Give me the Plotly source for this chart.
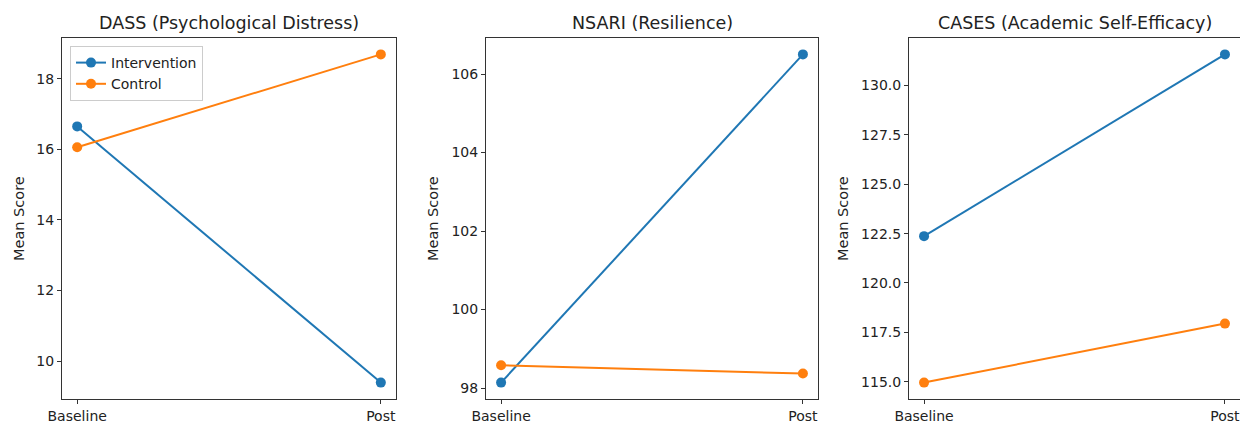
import plotly.graph_objects as go

timepoints = ["Baseline", "Post"]
titles = ["DASS (Psychological Distress)", "NSARI (Resilience)", "CASES (Academic Self-Efficacy)"]
intervention = [[16.65, 9.39], [98.14, 106.5], [122.37, 131.58]]
control = [[16.06, 18.69], [98.58, 98.37], [114.95, 117.94]]
dticks = [2, 2, 2.5]
tickfmts = ["d", "d", ".1f"]

W, H = 1240, 424
x_domains = [(62, 396), (486, 818), (909, 1240)]
ylabel_x = [19, 433, 843]
y_top, y_bot = 38, 399

BLUE = "#1f77b4"
ORANGE = "#ff7f0e"
FONT = "DejaVu Sans"
TXT = "#222"
fig = go.Figure()

for i in range(3):
    ax = "" if i == 0 else str(i + 1)
    xref, yref = "x" + ax, "y" + ax
    fig.add_trace(go.Scatter(x=[0, 1], y=intervention[i], mode="lines+markers", name="Intervention",
                             line=dict(color=BLUE, width=2), marker=dict(size=10, color=BLUE),
                             xaxis=xref, yaxis=yref, showlegend=(i == 0)))
    fig.add_trace(go.Scatter(x=[0, 1], y=control[i], mode="lines+markers", name="Control",
                             line=dict(color=ORANGE, width=2), marker=dict(size=10, color=ORANGE),
                             xaxis=xref, yaxis=yref, showlegend=(i == 0)))
    vals = intervention[i] + control[i]
    lo, hi = min(vals), max(vals)
    pad = (hi - lo) * 0.05
    d0, d1 = x_domains[i]
    common = dict(showgrid=False, zeroline=False, showline=True, mirror=True, linecolor="#333",
                  linewidth=1, ticks="outside", ticklen=4, tickcolor="#333", automargin=False,
                  ticklabeloverflow="allow", tickfont=dict(family=FONT, size=14, color=TXT))
    fig.layout["xaxis" + ax] = dict(domain=[d0 / W, min(d1 / W, 1.0)], range=[-0.05, 1.05],
                                    tickvals=[0, 1], ticktext=timepoints, anchor=yref, **common)
    fig.layout["yaxis" + ax] = dict(domain=[(H - y_bot) / H, (H - y_top) / H], range=[lo - pad, hi + pad],
                                    dtick=dticks[i], tickformat=tickfmts[i], anchor=xref, **common)
    fig.add_annotation(text=titles[i], x=(d0 + min(d1, 1241)) / 2 / W, y=(H - y_top) / H,
                       xref="paper", yref="paper", xanchor="center", yanchor="bottom", yshift=3,
                       showarrow=False, font=dict(family=FONT, size=17.5, color=TXT))
    fig.add_annotation(text="Mean Score", x=ylabel_x[i] / W, y=(H - 219) / H, textangle=-90,
                       xref="paper", yref="paper", xanchor="center", yanchor="middle",
                       showarrow=False, font=dict(family=FONT, size=14.5, color=TXT))

fig.update_layout(
    width=W, height=H, margin=dict(l=0, r=0, t=0, b=0),
    plot_bgcolor="white", paper_bgcolor="white",
    font=dict(family=FONT, size=14, color=TXT),
    legend=dict(x=70 / W, y=(H - 46) / H, xanchor="left", yanchor="top",
                bgcolor="rgba(255,255,255,0.8)", bordercolor="#ccc", borderwidth=1,
                font=dict(family=FONT, size=14, color=TXT)),
)

fig.write_html("out.html", config={"displayModeBar": False},
               post_script="document.body.style.margin='0';document.body.style.overflow='hidden';")
